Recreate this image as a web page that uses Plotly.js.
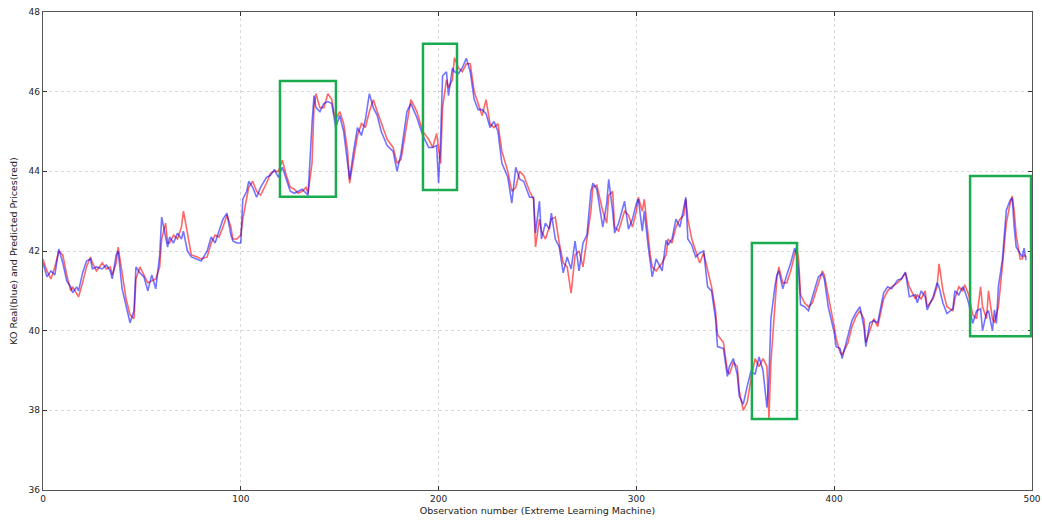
<!DOCTYPE html>
<html>
<head>
<meta charset="utf-8">
<script src="https://cdn.plot.ly/plotly-3.0.1.min.js"></script>
<style>html,body{margin:0;padding:0;background:#fff;}#chart{width:1042px;height:523px;}</style>
</head>
<body>
<div id="chart"></div>
<script>
// observation number, real (blue) and predicted (red) prices
const obs = [0,2,4,6,8,10,12,14,15,17,18,20,22,24,25,27,30,32,34,35,37,38,40,42,44,46,47,49,51,53,55,57,59,60,62,63,64,66,68,70,71,73,75,78,80,83,85,87,89,91,93,95,96,98,100,101,103,104,106,108,110,113,115,117,119,121,123,125,127,129,131,133,134,136,137,138,140,142,144,146,147,148,150,152,154,155,157,159,161,163,165,167,169,171,174,177,179,181,184,186,189,192,195,197,199,200,201,202,204,205,207,208,210,212,214,216,218,220,222,224,226,228,230,232,235,237,239,241,243,246,248,249,251,252,254,256,257,259,261,263,265,267,269,271,273,275,277,278,280,283,285,286,288,289,291,294,296,298,300,301,303,304,306,307,308,310,313,315,316,318,320,322,324,325,326,328,330,332,334,336,338,340,341,344,346,347,349,351,352,354,356,358,360,362,364,366,367,368,370,371,372,374,376,378,380,381,382,383,385,387,389,392,394,395,397,399,400,401,403,404,407,409,411,413,415,416,418,420,422,425,427,429,432,434,436,438,441,442,444,446,447,450,452,453,455,457,460,461,463,465,466,468,470,472,474,475,477,478,480,481,482,483,485,486,487,489,490,491,492,494,495,496,497];
const realBlue = [41.7,41.35,41.5,41.4,42.05,41.7,41.25,41.1,40.95,41.1,41.0,41.45,41.75,41.8,41.55,41.6,41.55,41.65,41.5,41.3,41.9,42.0,41.05,40.6,40.2,40.5,41.6,41.45,41.35,41.0,41.4,41.05,41.9,42.85,42.3,42.1,42.35,42.2,42.45,42.3,42.5,42.0,41.85,41.8,41.75,42.0,42.35,42.2,42.5,42.8,42.95,42.4,42.25,42.2,42.2,43.3,43.5,43.75,43.6,43.35,43.6,43.85,43.9,44.05,43.85,44.1,43.8,43.5,43.45,43.5,43.55,43.45,43.4,45.2,45.9,45.6,45.5,45.7,45.75,45.7,45.4,45.1,45.4,45.0,44.2,43.8,44.5,45.1,44.9,45.3,45.95,45.6,45.4,45.0,44.65,44.5,44.0,44.45,45.5,45.7,45.35,44.9,44.6,44.6,44.65,43.7,44.8,46.4,46.5,45.9,46.6,46.5,46.45,46.6,46.84,46.5,45.8,45.55,45.55,45.45,45.1,45.25,45.0,44.2,43.85,43.2,44.1,43.8,43.75,43.35,43.35,42.45,43.25,42.3,42.7,42.55,42.95,42.3,42.1,41.45,41.85,41.55,42.25,41.5,42.2,42.4,43.5,43.7,43.55,42.6,43.2,43.8,43.0,42.45,42.7,43.25,42.55,42.8,43.2,43.3,42.5,43.0,42.1,41.75,41.35,41.8,41.5,42.27,42.15,42.3,42.8,42.6,43.1,43.35,42.3,42.15,41.85,41.95,42.0,41.1,41.0,40.3,39.6,39.55,38.85,39.1,39.3,38.9,38.35,38.15,38.6,39.0,38.9,39.34,39.0,38.07,38.8,40.3,41.1,41.4,41.5,41.05,41.4,41.7,42.07,41.9,41.5,40.65,40.6,40.5,40.85,41.35,41.43,41.3,40.6,40.2,39.95,39.6,39.55,39.3,39.85,40.26,40.45,40.6,40.1,39.6,40.2,40.25,40.2,40.95,41.1,41.05,41.27,41.3,41.47,40.85,40.9,40.7,41.0,40.85,40.52,40.85,41.2,41.1,40.69,40.43,40.55,41.0,40.9,41.1,41.0,40.69,40.18,40.5,40.55,40.0,40.45,40.5,40.0,40.52,40.18,41.1,41.77,42.44,43.02,43.28,43.33,42.6,42.1,41.94,41.85,42.07,41.77];
const predRed = [41.8,41.5,41.3,41.6,42.0,41.9,41.4,41.0,41.1,40.95,40.85,41.2,41.6,41.85,41.7,41.5,41.7,41.55,41.6,41.4,41.7,42.1,41.4,40.8,40.4,40.3,41.3,41.6,41.4,41.2,41.25,41.3,41.6,42.3,42.7,42.2,42.2,42.4,42.3,42.6,43.0,42.4,41.9,41.85,41.8,41.85,42.2,42.4,42.35,42.6,42.9,42.6,42.3,42.3,42.4,42.8,43.4,43.6,43.75,43.5,43.4,43.7,43.95,44.0,44.0,44.28,43.9,43.6,43.55,43.45,43.5,43.6,43.45,44.2,45.6,45.95,45.6,45.6,45.95,45.8,45.5,45.3,45.5,45.2,44.5,43.7,44.3,44.9,45.2,45.1,45.5,45.8,45.5,45.2,44.8,44.6,44.2,44.3,45.2,45.8,45.5,45.0,44.8,44.6,44.95,44.5,44.2,45.6,46.3,46.1,46.3,46.85,46.6,46.5,46.7,46.7,46.0,45.7,45.4,45.8,45.2,45.1,45.2,44.5,44.0,43.5,43.6,44.0,43.9,43.5,43.3,42.1,42.8,42.5,42.3,42.6,42.8,42.85,42.2,41.7,41.6,40.94,41.9,42.0,41.6,42.3,43.0,43.6,43.65,43.0,42.7,43.4,43.5,42.6,42.5,43.0,42.9,42.6,43.0,43.35,43.0,43.3,42.3,41.9,41.6,41.5,41.7,41.9,42.3,42.2,42.6,42.8,42.9,43.3,42.8,42.3,42.0,41.7,41.95,41.5,41.1,40.5,39.9,39.7,39.0,38.9,39.2,39.1,38.5,38.0,38.2,38.8,39.3,39.1,39.3,39.1,37.8,39.2,40.6,41.3,41.6,41.2,41.2,41.5,41.9,42.1,41.8,40.9,40.7,40.6,40.7,41.2,41.5,41.4,40.9,40.4,40.1,39.8,39.45,39.4,39.7,40.1,40.35,40.5,40.3,39.7,40.0,40.3,40.1,40.8,41.0,41.1,41.2,41.3,41.45,41.1,40.8,40.9,40.8,41.0,40.6,40.8,41.1,41.68,41.0,40.6,40.5,40.8,41.1,41.0,41.15,40.9,40.4,40.3,41.1,40.6,40.3,41.0,40.3,40.2,40.4,40.6,41.6,42.2,42.7,43.2,43.38,43.0,42.4,41.8,41.8,41.9,41.85];
// highlighted regions (x0, x1, y0, y1)
const boxX0 = [119.8, 192.1, 358.4, 468.7];
const boxX1 = [148.1, 209.3, 381.2, 499.5];
const boxY0 = [43.36, 43.53, 37.78, 39.86];
const boxY1 = [46.27, 47.2, 42.2, 43.88];
const xTicks = [0,100,200,300,400,500];
const yTicks = [36,38,40,42,44,46,48];

const shapes = boxX0.map((x0,i)=>({type:'rect',xref:'x',yref:'y',x0:x0,x1:boxX1[i],y0:boxY0[i],y1:boxY1[i],line:{color:'#1aab4e',width:2.5},fillcolor:'rgba(0,0,0,0)'}));

const traces = [
  {x:obs,y:predRed,mode:'lines',line:{color:'rgba(255,0,0,0.6)',width:1.6},hoverinfo:'skip',showlegend:false},
  {x:obs,y:realBlue,mode:'lines',line:{color:'rgba(0,0,255,0.55)',width:1.6},hoverinfo:'skip',showlegend:false}
];
const axFont = {family:'DejaVu Sans, sans-serif',size:9,color:'#222'};
const layout = {
  width:1042,height:523,
  margin:{l:43,r:10,t:12,b:33},
  paper_bgcolor:'#fff',plot_bgcolor:'#fff',
  showlegend:false,
  shapes:shapes,
  xaxis:{range:[0,500],tickvals:xTicks,ticktext:xTicks.map(String),ticks:'inside',ticklen:4,tickcolor:'#333',
    showline:true,mirror:'ticks',linecolor:'#555',linewidth:1.2,zeroline:false,
    showgrid:true,gridcolor:'#d9d9d9',griddash:'3px,3px',gridwidth:1,tickfont:axFont,
    title:{text:'Observation number (Extreme Learning Machine)',font:{family:'DejaVu Sans, sans-serif',size:9.5,color:'#222'},standoff:4}},
  yaxis:{range:[36,48],tickvals:yTicks,ticktext:yTicks.map(String),ticks:'inside',ticklen:4,tickcolor:'#333',
    showline:true,mirror:'ticks',linecolor:'#555',linewidth:1.2,zeroline:false,
    showgrid:true,gridcolor:'#d9d9d9',griddash:'3px,3px',gridwidth:1,tickfont:axFont,
    title:{text:'KO Real(blue) and Predicted Prices(red)',font:{family:'DejaVu Sans, sans-serif',size:9.5,color:'#222'},standoff:9}}
};
Plotly.newPlot('chart',traces,layout,{displayModeBar:false,staticPlot:true});
</script>
</body>
</html>
